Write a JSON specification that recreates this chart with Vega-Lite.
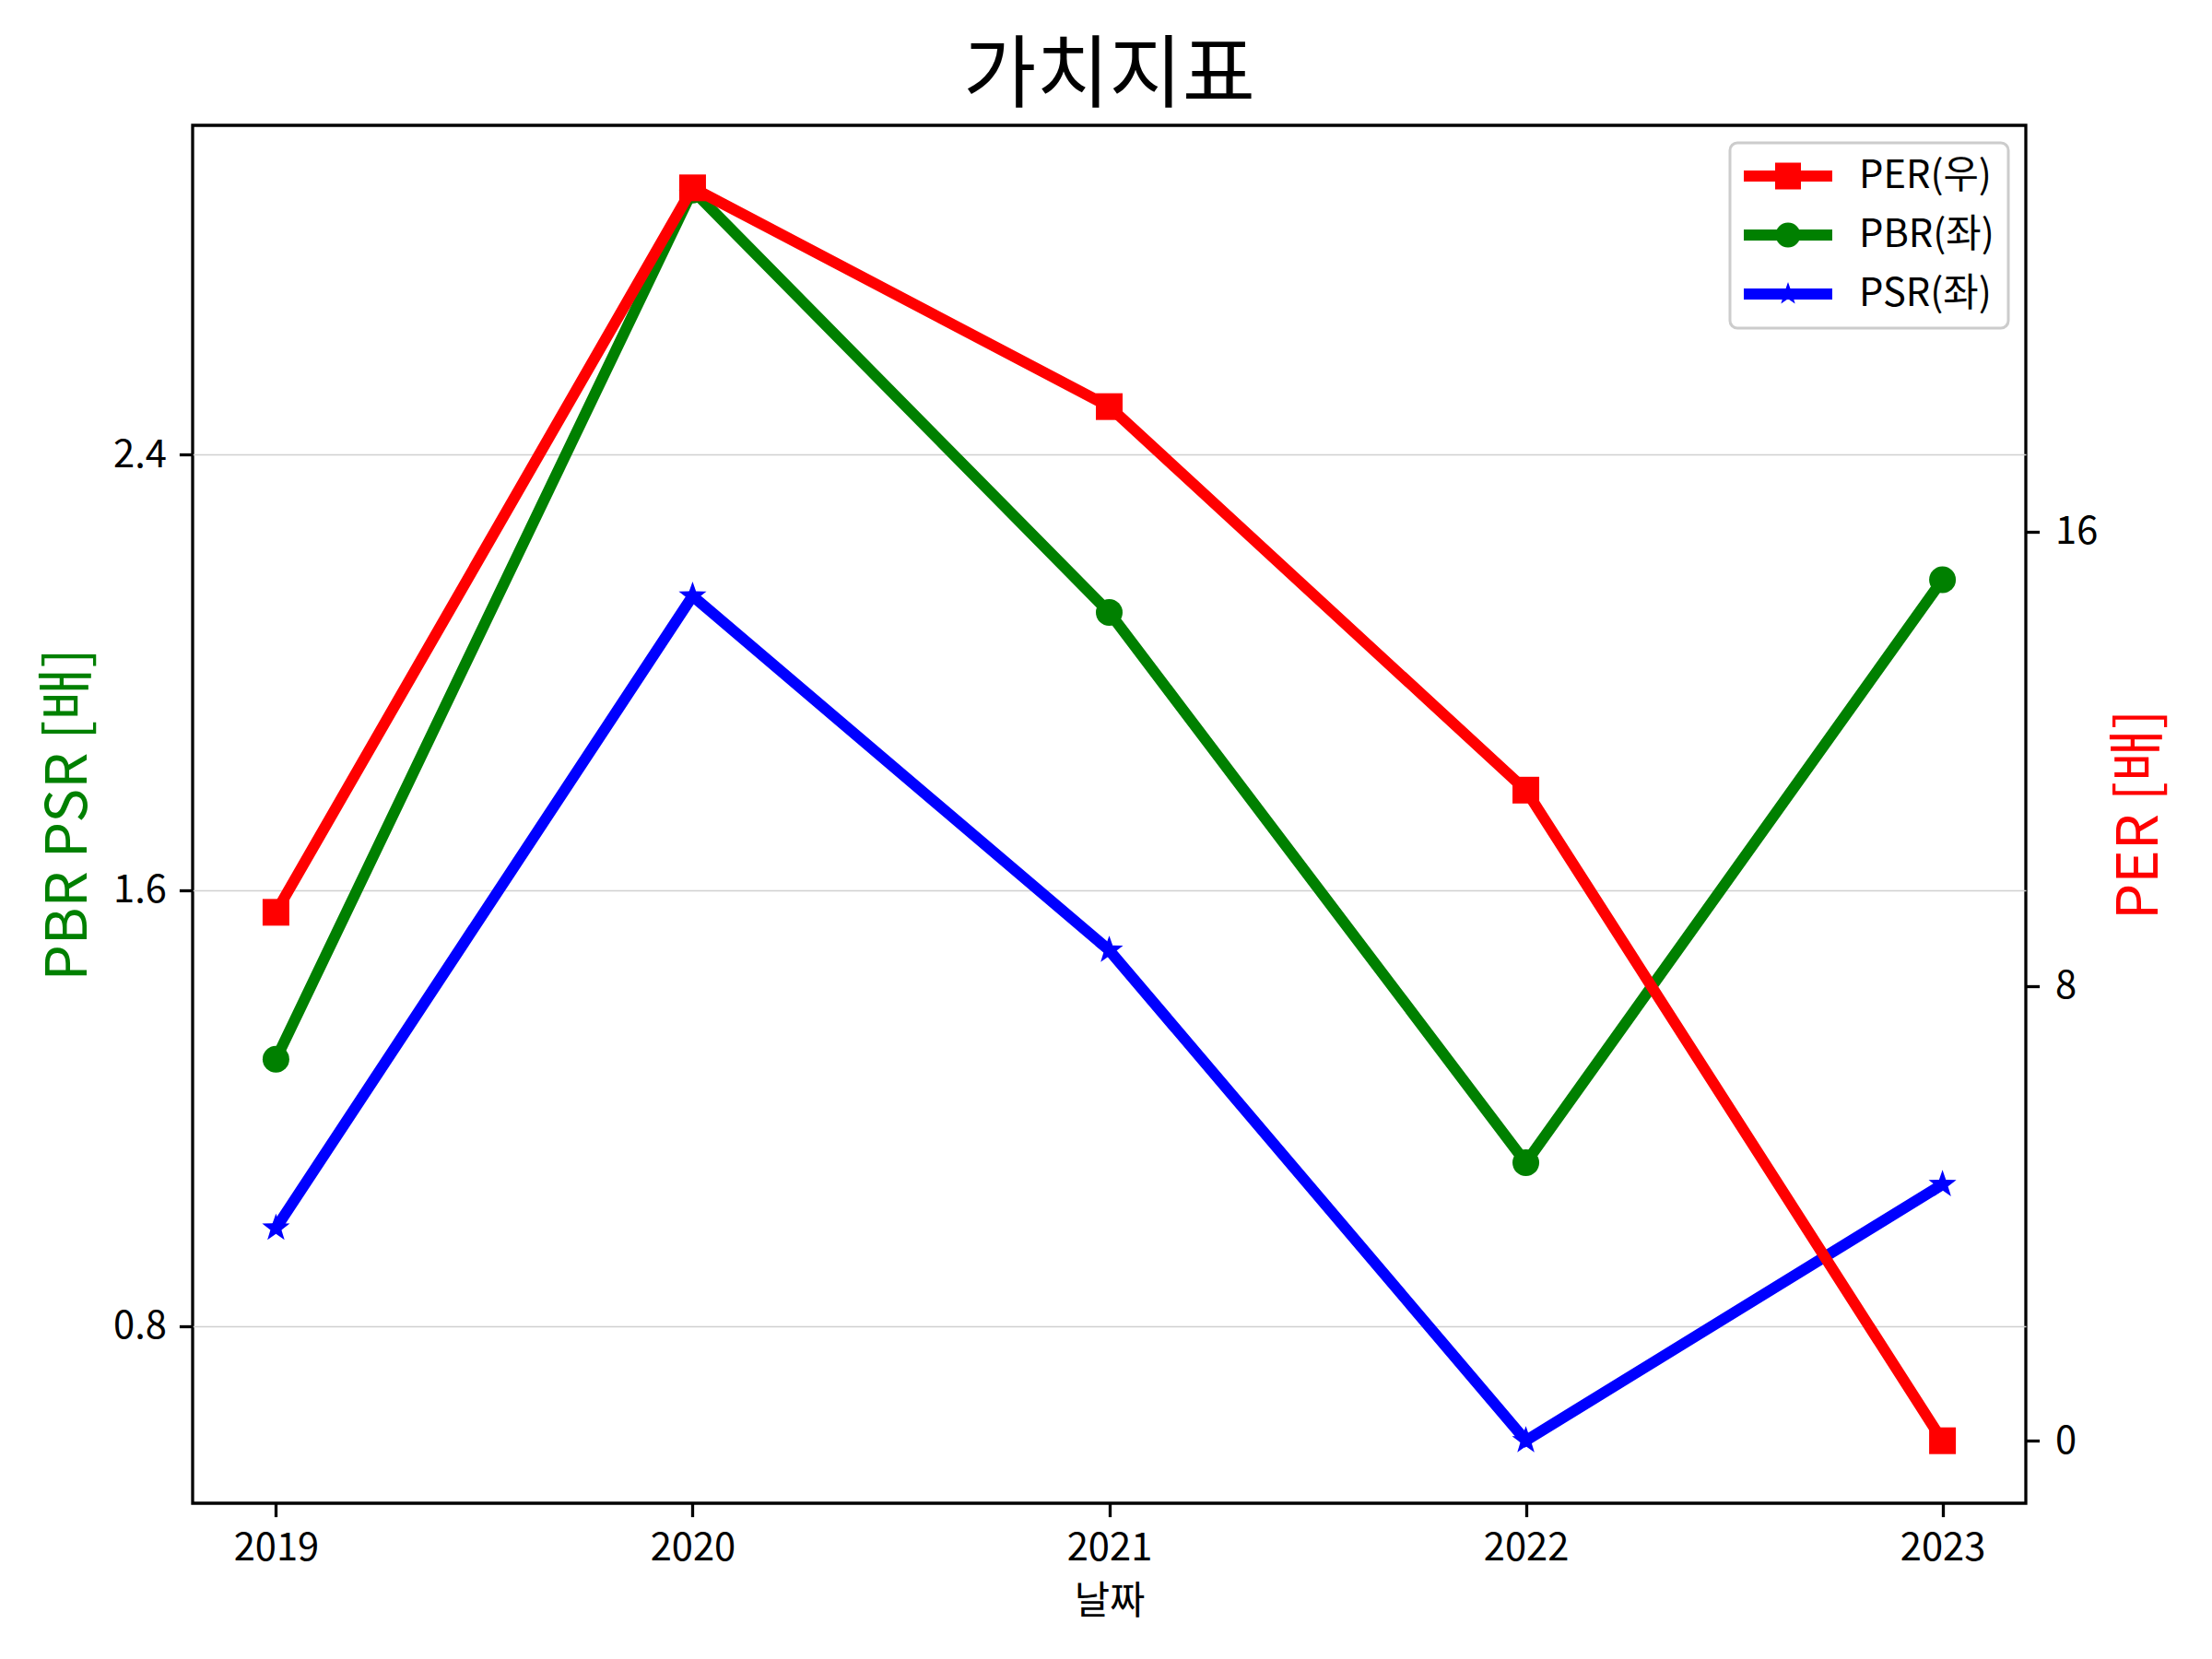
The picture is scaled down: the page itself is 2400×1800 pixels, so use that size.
{
  "$schema": "https://vega.github.io/schema/vega-lite/v6.json",
  "description": "가치지표 - PER / PBR / PSR",
  "autosize": "none",
  "width": 1989,
  "height": 1495,
  "padding": {"left": 209, "top": 136, "right": 202, "bottom": 169},
  "background": "white",
  "title": {
    "text": "가치지표",
    "fontSize": 86,
    "font": "Noto Sans CJK KR",
    "fontWeight": "normal",
    "color": "black",
    "offset": 8
  },
  "data": {
    "values": [
      {"year": 2019, "PER": 9.3, "PBR": 1.29, "PSR": 0.98},
      {"year": 2020, "PER": 22.05, "PBR": 2.885, "PSR": 2.14},
      {"year": 2021, "PER": 18.2, "PBR": 2.11, "PSR": 1.49},
      {"year": 2022, "PER": 11.45, "PBR": 1.1, "PSR": 0.59},
      {"year": 2023, "PER": 0.0, "PBR": 2.17, "PSR": 1.06}
    ]
  },
  "encoding": {
    "x": {
      "field": "year",
      "type": "quantitative",
      "title": "날짜",
      "scale": {"domain": [2018.8, 2023.2], "nice": false, "zero": false},
      "axis": {"values": [2019, 2020, 2021, 2022, 2023], "format": "d", "grid": false, "titlePadding": 16}
    }
  },
  "layer": [
    {
      "layer": [
        {
          "mark": {"type": "line", "color": "#008000", "strokeWidth": 12},
          "encoding": {
            "y": {
              "field": "PBR",
              "type": "quantitative",
              "title": "PBR PSR [배]",
              "scale": {"domain": [0.475, 3.004], "nice": false, "zero": false},
              "axis": {
                "values": [0.8, 1.6, 2.4],
                "format": ".1f",
                "grid": true,
                "titleColor": "#008000",
                "titleFontSize": 62,
                "titlePadding": 16
              }
            }
          }
        },
        {
          "mark": {"type": "point", "shape": "circle", "filled": true, "color": "#008000", "size": 841, "opacity": 1},
          "encoding": {"y": {"field": "PBR", "type": "quantitative"}}
        },
        {
          "mark": {"type": "line", "color": "#0000ff", "strokeWidth": 12},
          "encoding": {"y": {"field": "PSR", "type": "quantitative"}}
        },
        {
          "mark": {
            "type": "point",
            "shape": "M0,-1L0.235,-0.324L0.951,-0.309L0.38,0.124L0.588,0.809L0,0.4L-0.588,0.809L-0.38,0.124L-0.951,-0.309L-0.235,-0.324Z",
            "filled": true,
            "color": "#0000ff",
            "size": 1000,
            "opacity": 1
          },
          "encoding": {"y": {"field": "PSR", "type": "quantitative"}}
        }
      ]
    },
    {
      "layer": [
        {
          "mark": {"type": "line", "color": "#ff0000", "strokeWidth": 12},
          "encoding": {
            "y": {
              "field": "PER",
              "type": "quantitative",
              "title": "PER [배]",
              "scale": {"domain": [-1.1, 23.15], "nice": false, "zero": false},
              "axis": {
                "orient": "right",
                "values": [0, 8, 16],
                "format": "d",
                "grid": false,
                "labelPadding": 17,
                "titleColor": "#ff0000",
                "titleFontSize": 62,
                "titleAngle": 270,
                "titleBaseline": "top",
                "titlePadding": 16
              }
            }
          }
        },
        {
          "mark": {"type": "point", "shape": "square", "filled": true, "color": "#ff0000", "size": 841, "opacity": 1},
          "encoding": {"y": {"field": "PER", "type": "quantitative"}}
        }
      ]
    },
    {
      "transform": [{"filter": "false"}, {"calculate": "'PER(우)'", "as": "series"}],
      "mark": {"type": "point", "filled": true, "size": 1764, "opacity": 1},
      "encoding": {
        "x": {"value": 0},
        "color": {
          "field": "series",
          "type": "nominal",
          "scale": {"domain": ["PER(우)", "PBR(좌)", "PSR(좌)"], "range": ["#ff0000", "#008000", "#0000ff"]},
          "legend": {"title": null, "orient": "top-right", "offset": 19}
        },
        "shape": {
          "field": "series",
          "type": "nominal",
          "scale": {
            "domain": ["PER(우)", "PBR(좌)", "PSR(좌)"],
            "range": [
              "M-1,-0.286H3.571V0.286H-1Z M0.619,-0.69H1.953V0.69H0.619Z",
              "M-1,-0.286H3.571V0.286H-1Z M0.643,0A0.643,0.643,0,1,1,1.929,0A0.643,0.643,0,1,1,0.643,0Z",
              "M-1,-0.286H3.571V0.286H-1Z M1.286,-0.62L1.43,-0.2L1.876,-0.19L1.52,0.077L1.65,0.5L1.286,0.25L0.922,0.5L1.052,0.077L0.696,-0.19L1.142,-0.2Z"
            ]
          },
          "legend": {"title": null, "orient": "top-right", "offset": 19}
        }
      }
    }
  ],
  "resolve": {"scale": {"y": "independent"}, "axis": {"y": "independent"}},
  "config": {
    "font": "Noto Sans CJK KR",
    "view": {"stroke": "black", "strokeWidth": 3.3},
    "axis": {
      "domain": false,
      "tickColor": "black",
      "tickWidth": 3.3,
      "tickSize": 14.6,
      "labelColor": "black",
      "labelFont": "Noto Sans CJK KR",
      "labelFontSize": 41.7,
      "labelPadding": 14,
      "titleFont": "Noto Sans CJK KR",
      "titleFontSize": 41.7,
      "titleFontWeight": "normal",
      "titleColor": "black",
      "gridColor": "#d0d0d0",
      "gridWidth": 1.5
    },
    "legend": {
      "labelFont": "Noto Sans CJK KR",
      "labelFontSize": 41.7,
      "labelColor": "black",
      "labelOffset": 83,
      "symbolSize": 1764,
      "symbolStrokeWidth": 0,
      "symbolOpacity": 1,
      "rowPadding": 21,
      "padding": 15,
      "fillColor": "rgba(255,255,255,0.8)",
      "strokeColor": "#cccccc",
      "strokeWidth": 3,
      "cornerRadius": 8
    }
  }
}
